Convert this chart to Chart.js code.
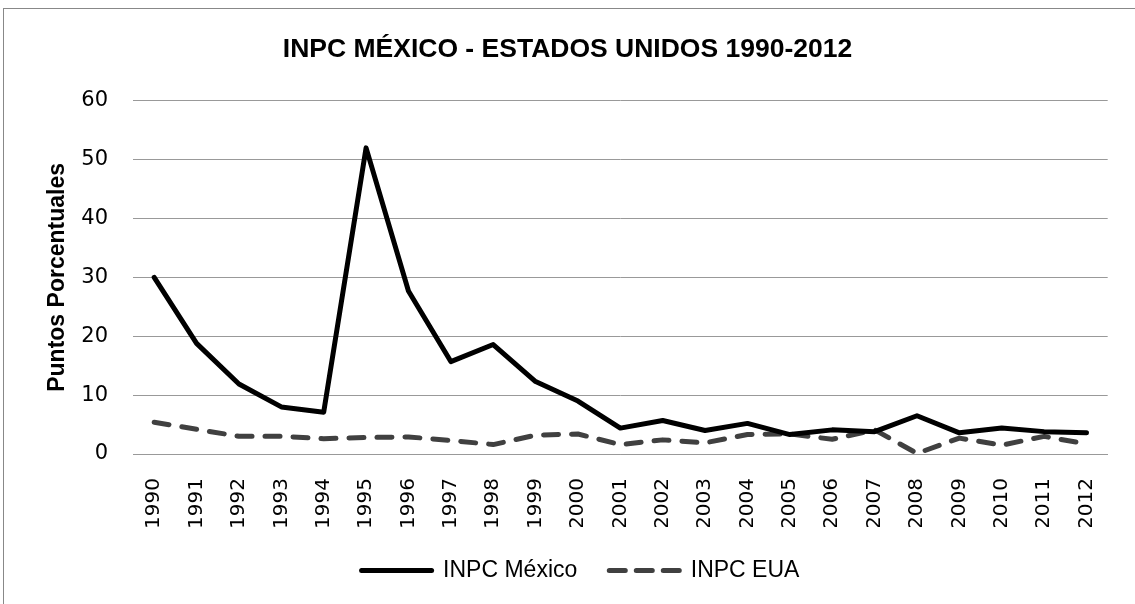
<!DOCTYPE html>
<html lang="es">
<head>
<meta charset="utf-8">
<title>INPC México - Estados Unidos 1990-2012</title>
<script src="https://cdn.jsdelivr.net/npm/chart.js@4.4.0/dist/chart.umd.min.js"></script>
<style>
    html, body {
        margin: 0;
        padding: 0;
        background: #fff;
        overflow: hidden;
    }
    .frame {
        position: absolute;
        left: 3px;
        top: 8px;
        width: 1200px;
        height: 700px;
        border: 1px solid #888;
    }
    .chart-box {
        position: absolute;
        left: 0;
        top: 0;
        width: 1135px;
        height: 604px;
    }
</style>
</head>
<body>
<div class="frame"></div>
<div class="chart-box">
    <canvas id="inpcChart" width="1135" height="604"></canvas>
</div>
<script>
// Inflación anual (%)
const years = [
    "1990", "1991", "1992", "1993", "1994", "1995", "1996", "1997",
    "1998", "1999", "2000", "2001", "2002", "2003", "2004", "2005",
    "2006", "2007", "2008", "2009", "2010", "2011", "2012",
];
const inpcMexico = [
    30.0, 18.8, 11.9, 8.0, 7.1, 52.0, 27.7, 15.7,
    18.6, 12.3, 9.0, 4.4, 5.7, 4.0, 5.2, 3.3,
    4.1, 3.8, 6.5, 3.6, 4.4, 3.8, 3.6,
];
const inpcEua = [
    5.4, 4.2, 3.0, 3.0, 2.6, 2.8, 2.9, 2.3,
    1.6, 3.2, 3.4, 1.6, 2.4, 1.9, 3.3, 3.4,
    2.5, 4.1, 0.1, 2.7, 1.5, 3.0, 1.7,
];
const yTicks = [0, 10, 20, 30, 40, 50, 60];

const tickFont = { family: "'DejaVu Sans'", size: 20 };
const boldFont = "'Liberation Sans', Arial, sans-serif";
const euaDash = [15, 13];

// la leyenda va un poco a la derecha del centro, como en el original
const shiftLegend = {
    id: "shiftLegend",
    afterLayout(chart) {
        chart.legend.left += 13;
        chart.legend.right += 13;
    },
};

function createInflationChart() {
    const ctx = document.getElementById("inpcChart").getContext("2d");
    return new Chart(ctx, {
        type: "line",
        data: {
            labels: years,
            datasets: [
                {
                    label: "INPC México",
                    data: inpcMexico,
                    borderColor: "#000000",
                    backgroundColor: "#000000",
                    borderWidth: 5,
                    borderCapStyle: "round",
                    borderJoinStyle: "round",
                    pointRadius: 0,
                    tension: 0,
                },
                {
                    label: "INPC EUA",
                    data: inpcEua,
                    borderColor: "#404040",
                    backgroundColor: "#404040",
                    borderWidth: 5,
                    borderDash: euaDash,
                    borderCapStyle: "round",
                    borderJoinStyle: "round",
                    pointRadius: 0,
                    tension: 0,
                },
            ],
        },
        plugins: [shiftLegend],
        options: {
            responsive: false,
            animation: false,
            layout: {
                padding: { left: 23, right: 23, top: 0, bottom: 12 },
            },
            plugins: {
                title: {
                    display: true,
                    text: "INPC MÉXICO - ESTADOS UNIDOS 1990-2012",
                    color: "#000",
                    font: { family: boldFont, size: 26.5, weight: "bold", lineHeight: 1.2 },
                    padding: { top: 34, bottom: 35 },
                },
                legend: {
                    position: "bottom",
                    labels: {
                        usePointStyle: true,
                        pointStyle: "line",
                        pointStyleWidth: 70,
                        boxHeight: 23,
                        padding: 32,
                        color: "#000",
                        font: { family: "'Liberation Sans'", size: 23 },
                        generateLabels: (chart) => {
                            const items = Chart.defaults.plugins.legend.labels.generateLabels(chart);
                            items.forEach((item, i) => {
                                item.lineWidth = 5;
                                item.lineCap = "round";
                                item.lineDash = i === 1 ? [16, 11] : [];
                                item.strokeStyle = chart.data.datasets[i].borderColor;
                            });
                            return items;
                        },
                    },
                },
                tooltip: { enabled: false },
            },
            scales: {
                x: {
                    offset: true,
                    grid: { display: false, drawTicks: false },
                    border: { display: true, color: "#999", width: 1 },
                    ticks: {
                        color: "#000",
                        font: tickFont,
                        maxRotation: 90,
                        minRotation: 90,
                        autoSkip: false,
                        padding: 24,
                    },
                    afterFit: (axis) => {
                        axis.height = 73;
                    },
                },
                y: {
                    min: 0,
                    max: 60,
                    afterBuildTicks: (axis) => {
                        axis.ticks = yTicks.map((v) => ({ value: v }));
                    },
                    grid: { color: "#999", lineWidth: 1, drawTicks: false },
                    border: { display: false },
                    ticks: {
                        color: "#000",
                        font: { family: "'DejaVu Sans'", size: 21 },
                        padding: 25,
                    },
                    title: {
                        display: true,
                        text: "Puntos Porcentuales",
                        color: "#000",
                        font: { family: boldFont, size: 23, weight: "bold", lineHeight: 1.2 },
                        padding: { top: 21, bottom: 0 },
                    },
                    afterFit: (axis) => {
                        axis.width = 110;
                    },
                },
            },
        },
    });
}

document.addEventListener("DOMContentLoaded", () => {
    createInflationChart();
});
</script>
</body>
</html>
